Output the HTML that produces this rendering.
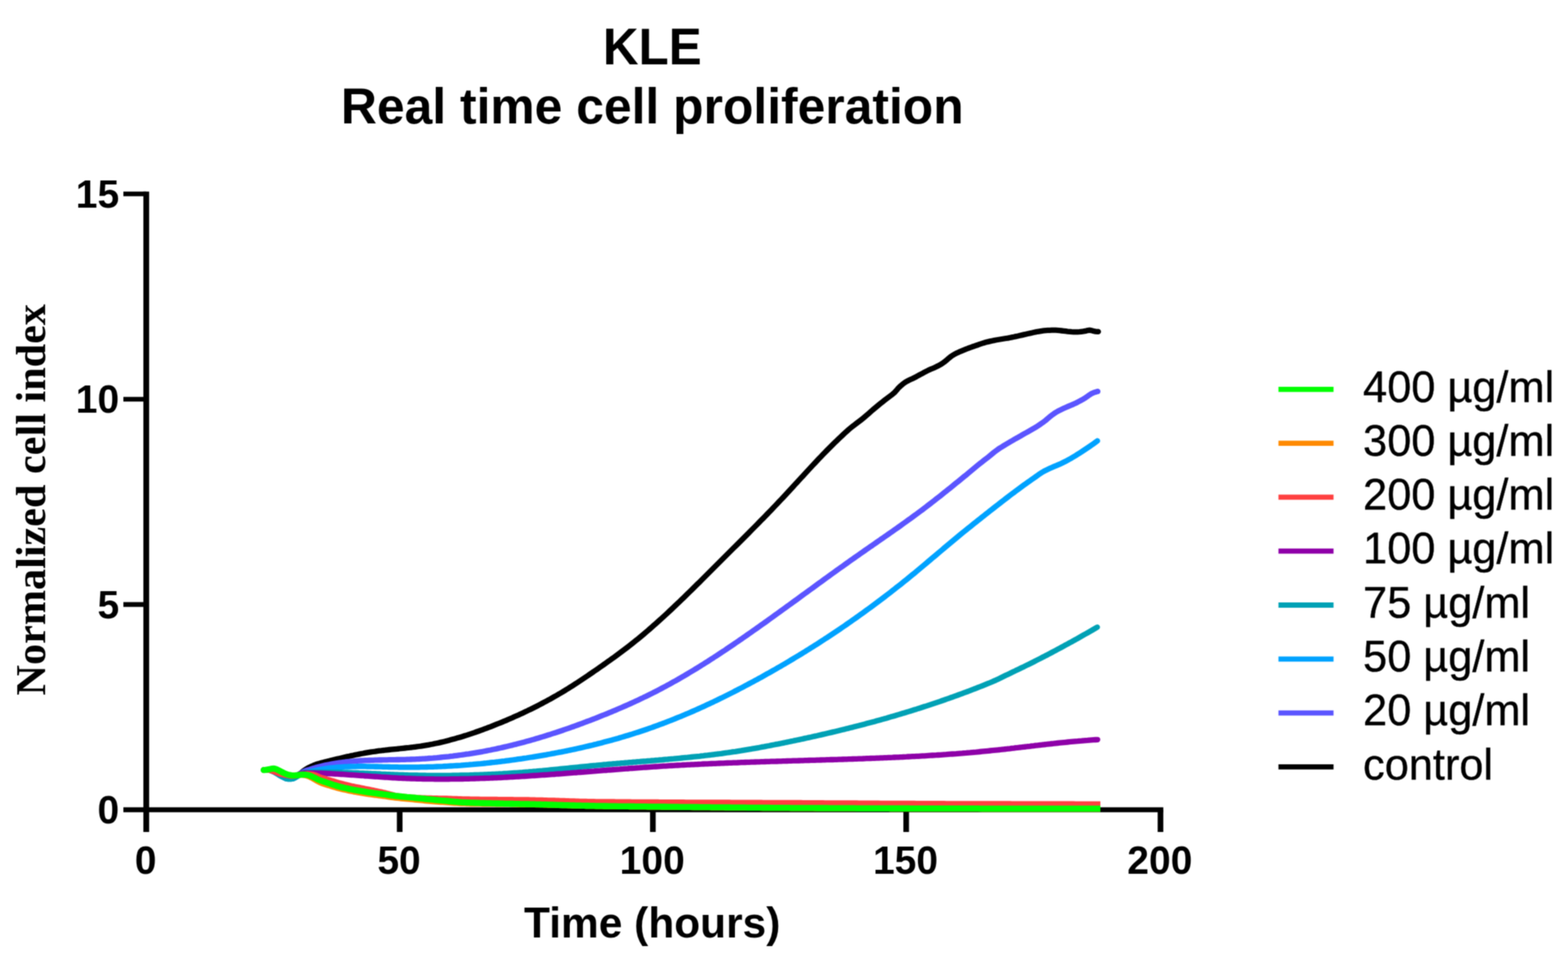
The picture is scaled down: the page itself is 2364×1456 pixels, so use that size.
<!DOCTYPE html>
<html lang="en"><head><meta charset="utf-8"><title>KLE Real time cell proliferation</title>
<style>html,body{margin:0;padding:0;background:#fff;}body{width:2364px;height:1456px;}svg{display:block;}text{font-family:"Liberation Sans",sans-serif;fill:#000;}.b{font-weight:700;}.ser{font-family:"Liberation Serif",serif;font-weight:700;}.c{fill:none;stroke-linejoin:round;stroke-linecap:round;}</style></head><body>
<svg width="2364" height="1456" viewBox="0 0 2364 1456">
<defs><filter id="soft" x="0" y="0" width="2364" height="1456" filterUnits="userSpaceOnUse" color-interpolation-filters="sRGB"><feConvolveMatrix order="3" kernelMatrix="1 2 1 2 4 2 1 2 1" divisor="16" edgeMode="duplicate" preserveAlpha="false"/></filter></defs>
<g filter="url(#soft)">
<rect width="2364" height="1456" fill="#fff"/>
<text class="b" font-size="75.1" text-anchor="middle" transform="translate(983.40,97.20) scale(0.99,1.03)">KLE</text>
<text class="b" font-size="75.1" text-anchor="middle" transform="translate(983.40,186.00) scale(1.0,1.0)">Real time cell proliferation</text>
<g stroke="#000" fill="none" stroke-linecap="butt">
<path d="M220.5,288.75V1254.0" stroke-width="8.7"/>
<path d="M186.0,1220.5H1753.85" stroke-width="7.5"/>
<path d="M186.0,911.10H220.5" stroke-width="7.1"/>
<path d="M186.0,601.70H220.5" stroke-width="7.1"/>
<path d="M186.0,292.30H220.5" stroke-width="7.1"/>
<path d="M602.60,1220.5V1254.0" stroke-width="8.5"/>
<path d="M984.30,1220.5V1254.0" stroke-width="8.5"/>
<path d="M1366.20,1220.5V1254.0" stroke-width="8.5"/>
<path d="M1749.60,1220.5V1254.0" stroke-width="8.5"/>
</g>
<g class="b" font-size="58.8" text-anchor="end">
<text transform="translate(179.60,1241.20) scale(1.0,1.0)">0</text>
<text transform="translate(179.60,931.80) scale(1.0,1.0)">5</text>
<text transform="translate(179.60,622.40) scale(1.0,1.0)">10</text>
<text transform="translate(179.60,313.00) scale(1.0,1.0)">15</text>
</g>
<g class="b" font-size="58.8" text-anchor="middle">
<text transform="translate(219.50,1317.30) scale(1.0,1.0)">0</text>
<text transform="translate(601.60,1317.30) scale(1.0,1.0)">50</text>
<text transform="translate(983.30,1317.30) scale(1.0,1.0)">100</text>
<text transform="translate(1365.20,1317.30) scale(1.0,1.0)">150</text>
<text transform="translate(1748.60,1317.30) scale(1.0,1.0)">200</text>
</g>
<text class="b" font-size="64" text-anchor="middle" transform="translate(983.30,1413.00) scale(1.0,1.0)">Time (hours)</text>
<text class="ser" transform="translate(68.2,753.3) rotate(-90)" font-size="63.6" text-anchor="middle">Normalized cell index</text>
<defs><clipPath id="cl"><rect x="380" y="1100" width="1279" height="140"/></clipPath></defs>
<g class="c">
<path d="M397.6,1160.6 400.6,1160.5 403.6,1160.5 406.6,1160.8 409.6,1161.7 412.6,1162.7 415.6,1164.0 418.6,1165.2 421.6,1166.4 424.6,1167.2 427.6,1167.8 430.6,1168.3 433.6,1168.9 436.6,1169.5 439.6,1169.8 442.6,1169.7 445.6,1169.3 448.6,1168.5 451.6,1166.7 454.6,1164.5 457.6,1161.9 460.6,1159.8 463.6,1158.0 466.6,1156.4 469.6,1155.0 472.6,1153.7 475.6,1152.5 478.6,1151.5 481.6,1150.6 484.6,1149.7 487.6,1149.0 490.6,1148.2 493.6,1147.5 496.6,1146.8 499.6,1146.0 502.6,1145.3 505.6,1144.6 508.6,1143.9 511.6,1143.2 514.6,1142.5 517.6,1141.8 520.6,1141.1 523.6,1140.4 526.6,1139.8 529.6,1139.1 532.6,1138.5 535.6,1137.8 538.6,1137.2 541.6,1136.6 544.6,1136.0 547.6,1135.5 550.6,1134.9 553.6,1134.4 556.6,1133.9 559.6,1133.4 562.6,1133.0 565.6,1132.6 568.6,1132.1 571.6,1131.7 574.6,1131.4 577.6,1131.0 580.6,1130.7 583.6,1130.3 586.6,1130.0 589.6,1129.7 592.6,1129.4 595.6,1129.1 598.6,1128.8 601.6,1128.5 604.6,1128.1 607.6,1127.8 610.6,1127.5 613.6,1127.2 616.6,1126.9 619.6,1126.5 622.6,1126.2 625.6,1125.8 628.6,1125.4 631.6,1125.0 634.6,1124.6 637.6,1124.1 640.6,1123.6 643.6,1123.1 646.6,1122.6 649.6,1122.0 652.6,1121.5 655.6,1120.8 658.6,1120.2 661.6,1119.6 664.6,1118.9 667.6,1118.2 670.6,1117.5 673.6,1116.7 676.6,1115.9 679.6,1115.1 682.6,1114.3 685.6,1113.5 688.6,1112.6 691.6,1111.8 694.6,1110.9 697.6,1110.0 700.6,1109.0 703.6,1108.1 706.6,1107.1 709.6,1106.1 712.6,1105.1 715.6,1104.1 718.6,1103.0 721.6,1102.0 724.6,1100.9 727.6,1099.8 730.6,1098.7 733.6,1097.6 736.6,1096.4 739.6,1095.3 742.6,1094.1 745.6,1092.9 748.6,1091.7 751.6,1090.5 754.6,1089.3 757.6,1088.1 760.6,1086.8 763.6,1085.6 766.6,1084.3 769.6,1083.0 772.6,1081.7 775.6,1080.3 778.6,1079.0 781.6,1077.7 784.6,1076.3 787.6,1074.9 790.6,1073.5 793.6,1072.1 796.6,1070.6 799.6,1069.2 802.6,1067.7 805.6,1066.2 808.6,1064.7 811.6,1063.2 814.6,1061.6 817.6,1060.0 820.6,1058.4 823.6,1056.8 826.6,1055.2 829.6,1053.6 832.6,1051.9 835.6,1050.2 838.6,1048.5 841.6,1046.7 844.6,1045.0 847.6,1043.2 850.6,1041.4 853.6,1039.5 856.6,1037.7 859.6,1035.8 862.6,1033.9 865.6,1032.0 868.6,1030.1 871.6,1028.1 874.6,1026.1 877.6,1024.1 880.6,1022.1 883.6,1020.1 886.6,1018.1 889.6,1016.0 892.6,1014.0 895.6,1011.9 898.6,1009.9 901.6,1007.8 904.6,1005.7 907.6,1003.6 910.6,1001.5 913.6,999.4 916.6,997.2 919.6,995.1 922.6,992.9 925.6,990.8 928.6,988.6 931.6,986.4 934.6,984.2 937.6,981.9 940.6,979.7 943.6,977.4 946.6,975.1 949.6,972.7 952.6,970.4 955.6,968.0 958.6,965.6 961.6,963.2 964.6,960.7 967.6,958.2 970.6,955.7 973.6,953.1 976.6,950.6 979.6,948.0 982.6,945.4 985.6,942.7 988.6,940.1 991.6,937.4 994.6,934.7 997.6,932.0 1000.6,929.2 1003.6,926.5 1006.6,923.7 1009.6,920.9 1012.6,918.1 1015.6,915.2 1018.6,912.4 1021.6,909.5 1024.6,906.7 1027.6,903.8 1030.6,900.9 1033.6,898.0 1036.6,895.1 1039.6,892.1 1042.6,889.2 1045.6,886.2 1048.6,883.3 1051.6,880.3 1054.6,877.4 1057.6,874.4 1060.6,871.4 1063.6,868.4 1066.6,865.4 1069.6,862.4 1072.6,859.4 1075.6,856.4 1078.6,853.4 1081.6,850.4 1084.6,847.4 1087.6,844.4 1090.6,841.4 1093.6,838.4 1096.6,835.4 1099.6,832.4 1102.6,829.4 1105.6,826.4 1108.6,823.5 1111.6,820.5 1114.6,817.5 1117.6,814.5 1120.6,811.5 1123.6,808.5 1126.6,805.5 1129.6,802.5 1132.6,799.4 1135.6,796.4 1138.6,793.4 1141.6,790.3 1144.6,787.3 1147.6,784.2 1150.6,781.2 1153.6,778.1 1156.6,775.0 1159.6,771.9 1162.6,768.8 1165.6,765.7 1168.6,762.5 1171.6,759.4 1174.6,756.2 1177.6,753.0 1180.6,749.8 1183.6,746.6 1186.6,743.4 1189.6,740.1 1192.6,736.9 1195.6,733.6 1198.6,730.3 1201.6,727.1 1204.6,723.8 1207.6,720.5 1210.6,717.3 1213.6,714.0 1216.6,710.7 1219.6,707.5 1222.6,704.2 1225.6,701.0 1228.6,697.8 1231.6,694.6 1234.6,691.4 1237.6,688.3 1240.6,685.2 1243.6,682.1 1246.6,679.0 1249.6,676.0 1252.6,673.0 1255.6,670.0 1258.6,667.1 1261.6,664.2 1264.6,661.3 1267.6,658.4 1270.6,655.6 1273.6,652.8 1276.6,650.1 1279.6,647.4 1282.6,644.9 1285.6,642.5 1288.6,640.2 1291.6,637.9 1294.6,635.7 1297.6,633.4 1300.6,631.0 1303.6,628.5 1306.6,625.9 1309.6,623.3 1312.6,620.7 1315.6,618.0 1318.6,615.5 1321.6,613.0 1324.6,610.5 1327.6,608.1 1330.6,605.7 1333.6,603.3 1336.6,601.0 1339.6,598.7 1342.6,596.5 1345.6,594.2 1348.6,591.6 1351.6,588.3 1354.6,584.7 1357.6,581.9 1360.6,579.3 1363.6,577.0 1366.6,575.1 1369.6,573.5 1372.6,572.1 1375.6,570.7 1378.6,569.2 1381.6,567.7 1384.6,566.0 1387.6,564.4 1390.6,562.8 1393.6,561.2 1396.6,559.6 1399.6,558.1 1402.6,556.7 1405.6,555.5 1408.6,554.2 1411.6,552.8 1414.6,551.3 1417.6,549.7 1420.6,547.8 1423.6,545.7 1426.6,543.3 1429.6,540.7 1432.6,538.2 1435.6,536.0 1438.6,534.2 1441.6,532.6 1444.6,531.2 1447.6,529.8 1450.6,528.6 1453.6,527.4 1456.6,526.2 1459.6,525.0 1462.6,523.9 1465.6,522.8 1468.6,521.8 1471.6,520.7 1474.6,519.7 1477.6,518.6 1480.6,517.6 1483.6,516.7 1486.6,515.8 1489.6,515.1 1492.6,514.4 1495.6,513.7 1498.6,513.1 1501.6,512.5 1504.6,512.0 1507.6,511.5 1510.6,511.0 1513.6,510.5 1516.6,510.0 1519.6,509.6 1522.6,509.0 1525.6,508.4 1528.6,507.8 1531.6,507.1 1534.6,506.5 1537.6,505.8 1540.6,505.1 1543.6,504.4 1546.6,503.7 1549.6,503.0 1552.6,502.4 1555.6,501.7 1558.6,501.0 1561.6,500.4 1564.6,499.8 1567.6,499.3 1570.6,498.8 1573.6,498.4 1576.6,498.1 1579.6,497.9 1582.6,497.8 1585.6,497.7 1588.6,497.6 1591.6,497.7 1594.6,497.9 1597.6,498.2 1600.6,498.5 1603.6,498.8 1606.6,499.2 1609.6,499.6 1612.6,499.8 1615.6,500.1 1618.6,500.3 1621.6,500.4 1624.6,500.4 1627.6,500.2 1630.6,499.8 1633.6,499.4 1636.6,498.9 1639.6,498.1 1642.6,497.7 1645.6,498.1 1648.6,499.0 1651.6,499.6 1654.6,499.8 1655.8,499.9" stroke="#000000" stroke-width="8.3"/>
<path d="M397.6,1160.6 400.6,1160.5 403.6,1160.5 406.6,1160.8 409.6,1161.7 412.6,1162.7 415.6,1164.0 418.6,1165.2 421.6,1166.4 424.6,1167.2 427.6,1167.8 430.6,1168.3 433.6,1168.9 436.6,1169.5 439.6,1169.8 442.6,1169.7 445.6,1169.3 448.6,1168.4 451.6,1166.7 454.6,1164.9 457.6,1163.1 460.6,1161.8 463.6,1160.8 466.6,1159.9 469.6,1158.9 472.6,1158.0 475.6,1157.1 478.6,1156.3 481.6,1155.5 484.6,1154.8 487.6,1154.1 490.6,1153.4 493.6,1152.8 496.6,1152.2 499.6,1151.6 502.6,1151.1 505.6,1150.6 508.6,1150.1 511.6,1149.7 514.6,1149.3 517.6,1148.9 520.6,1148.5 523.6,1148.2 526.6,1147.9 529.6,1147.6 532.6,1147.4 535.6,1147.1 538.6,1146.9 541.6,1146.7 544.6,1146.5 547.6,1146.4 550.6,1146.2 553.6,1146.1 556.6,1146.0 559.6,1145.9 562.6,1145.8 565.6,1145.7 568.6,1145.6 571.6,1145.5 574.6,1145.5 577.6,1145.4 580.6,1145.4 583.6,1145.3 586.6,1145.2 589.6,1145.2 592.6,1145.2 595.6,1145.1 598.6,1145.0 601.6,1145.0 604.6,1144.9 607.6,1144.9 610.6,1144.8 613.6,1144.7 616.6,1144.6 619.6,1144.5 622.6,1144.4 625.6,1144.3 628.6,1144.1 631.6,1144.0 634.6,1143.8 637.6,1143.6 640.6,1143.5 643.6,1143.3 646.6,1143.0 649.6,1142.8 652.6,1142.6 655.6,1142.3 658.6,1142.1 661.6,1141.8 664.6,1141.5 667.6,1141.2 670.6,1140.9 673.6,1140.6 676.6,1140.3 679.6,1139.9 682.6,1139.6 685.6,1139.2 688.6,1138.8 691.6,1138.4 694.6,1138.0 697.6,1137.6 700.6,1137.2 703.6,1136.7 706.6,1136.3 709.6,1135.8 712.6,1135.3 715.6,1134.8 718.6,1134.3 721.6,1133.8 724.6,1133.3 727.6,1132.8 730.6,1132.2 733.6,1131.6 736.6,1131.0 739.6,1130.5 742.6,1129.8 745.6,1129.2 748.6,1128.6 751.6,1127.9 754.6,1127.3 757.6,1126.6 760.6,1125.9 763.6,1125.2 766.6,1124.5 769.6,1123.8 772.6,1123.1 775.6,1122.3 778.6,1121.6 781.6,1120.8 784.6,1120.0 787.6,1119.2 790.6,1118.4 793.6,1117.6 796.6,1116.8 799.6,1115.9 802.6,1115.1 805.6,1114.2 808.6,1113.3 811.6,1112.4 814.6,1111.5 817.6,1110.6 820.6,1109.7 823.6,1108.8 826.6,1107.8 829.6,1106.9 832.6,1105.9 835.6,1104.9 838.6,1104.0 841.6,1103.0 844.6,1102.0 847.6,1101.0 850.6,1099.9 853.6,1098.9 856.6,1097.9 859.6,1096.8 862.6,1095.7 865.6,1094.7 868.6,1093.6 871.6,1092.5 874.6,1091.4 877.6,1090.3 880.6,1089.2 883.6,1088.0 886.6,1086.9 889.6,1085.8 892.6,1084.6 895.6,1083.5 898.6,1082.3 901.6,1081.1 904.6,1079.9 907.6,1078.7 910.6,1077.5 913.6,1076.3 916.6,1075.1 919.6,1073.8 922.6,1072.6 925.6,1071.3 928.6,1070.1 931.6,1068.8 934.6,1067.5 937.6,1066.2 940.6,1064.9 943.6,1063.6 946.6,1062.3 949.6,1060.9 952.6,1059.6 955.6,1058.2 958.6,1056.8 961.6,1055.4 964.6,1054.0 967.6,1052.6 970.6,1051.1 973.6,1049.7 976.6,1048.2 979.6,1046.7 982.6,1045.3 985.6,1043.7 988.6,1042.2 991.6,1040.7 994.6,1039.1 997.6,1037.5 1000.6,1035.9 1003.6,1034.3 1006.6,1032.7 1009.6,1031.1 1012.6,1029.4 1015.6,1027.7 1018.6,1026.1 1021.6,1024.4 1024.6,1022.6 1027.6,1020.9 1030.6,1019.2 1033.6,1017.4 1036.6,1015.6 1039.6,1013.8 1042.6,1012.0 1045.6,1010.2 1048.6,1008.4 1051.6,1006.6 1054.6,1004.7 1057.6,1002.8 1060.6,1001.0 1063.6,999.1 1066.6,997.2 1069.6,995.2 1072.6,993.3 1075.6,991.4 1078.6,989.4 1081.6,987.5 1084.6,985.5 1087.6,983.5 1090.6,981.6 1093.6,979.6 1096.6,977.5 1099.6,975.5 1102.6,973.5 1105.6,971.5 1108.6,969.4 1111.6,967.4 1114.6,965.3 1117.6,963.3 1120.6,961.2 1123.6,959.1 1126.6,957.0 1129.6,954.9 1132.6,952.8 1135.6,950.7 1138.6,948.6 1141.6,946.5 1144.6,944.4 1147.6,942.2 1150.6,940.1 1153.6,938.0 1156.6,935.8 1159.6,933.7 1162.6,931.5 1165.6,929.4 1168.6,927.2 1171.6,925.0 1174.6,922.9 1177.6,920.7 1180.6,918.5 1183.6,916.4 1186.6,914.2 1189.6,912.0 1192.6,909.8 1195.6,907.6 1198.6,905.5 1201.6,903.3 1204.6,901.1 1207.6,898.9 1210.6,896.7 1213.6,894.5 1216.6,892.3 1219.6,890.2 1222.6,888.0 1225.6,885.8 1228.6,883.6 1231.6,881.4 1234.6,879.2 1237.6,877.1 1240.6,874.9 1243.6,872.7 1246.6,870.5 1249.6,868.3 1252.6,866.2 1255.6,864.0 1258.6,861.9 1261.6,859.7 1264.6,857.5 1267.6,855.4 1270.6,853.3 1273.6,851.1 1276.6,849.0 1279.6,846.9 1282.6,844.7 1285.6,842.6 1288.6,840.5 1291.6,838.4 1294.6,836.3 1297.6,834.2 1300.6,832.1 1303.6,830.0 1306.6,827.9 1309.6,825.8 1312.6,823.7 1315.6,821.7 1318.6,819.6 1321.6,817.5 1324.6,815.4 1327.6,813.3 1330.6,811.3 1333.6,809.2 1336.6,807.1 1339.6,805.0 1342.6,802.9 1345.6,800.8 1348.6,798.7 1351.6,796.6 1354.6,794.5 1357.6,792.3 1360.6,790.2 1363.6,788.0 1366.6,785.9 1369.6,783.7 1372.6,781.6 1375.6,779.4 1378.6,777.2 1381.6,775.0 1384.6,772.7 1387.6,770.5 1390.6,768.3 1393.6,766.0 1396.6,763.7 1399.6,761.4 1402.6,759.1 1405.6,756.8 1408.6,754.5 1411.6,752.1 1414.6,749.8 1417.6,747.4 1420.6,745.0 1423.6,742.6 1426.6,740.2 1429.6,737.8 1432.6,735.4 1435.6,733.0 1438.6,730.5 1441.6,728.1 1444.6,725.7 1447.6,723.2 1450.6,720.8 1453.6,718.3 1456.6,715.9 1459.6,713.4 1462.6,710.9 1465.6,708.4 1468.6,705.9 1471.6,703.4 1474.6,700.9 1477.6,698.5 1480.6,696.2 1483.6,693.8 1486.6,691.5 1489.6,689.2 1492.6,686.8 1495.6,684.3 1498.6,681.8 1501.6,679.5 1504.6,677.3 1507.6,675.3 1510.6,673.5 1513.6,671.6 1516.6,669.8 1519.6,668.0 1522.6,666.2 1525.6,664.5 1528.6,662.7 1531.6,661.0 1534.6,659.4 1537.6,657.7 1540.6,655.9 1543.6,654.2 1546.6,652.5 1549.6,650.8 1552.6,649.1 1555.6,647.4 1558.6,645.7 1561.6,643.9 1564.6,642.0 1567.6,640.0 1570.6,637.9 1573.6,635.8 1576.6,633.5 1579.6,630.9 1582.6,628.3 1585.6,625.9 1588.6,623.8 1591.6,621.8 1594.6,620.0 1597.6,618.4 1600.6,617.0 1603.6,615.6 1606.6,614.2 1609.6,612.9 1612.6,611.6 1615.6,610.4 1618.6,609.1 1621.6,607.7 1624.6,606.2 1627.6,604.6 1630.6,603.0 1633.6,601.3 1636.6,599.4 1639.6,597.3 1642.6,595.2 1645.6,593.3 1648.6,591.9 1651.6,590.9 1654.6,590.1 1655.0,590.0" stroke="#5B55FF" stroke-width="8.3"/>
<path d="M397.6,1160.6 400.6,1160.5 403.6,1160.5 406.6,1160.9 409.6,1161.9 412.6,1163.2 415.6,1165.0 418.6,1166.8 421.6,1168.6 424.6,1170.3 427.6,1171.9 430.6,1173.4 433.6,1174.0 436.6,1174.0 439.6,1174.0 442.6,1173.4 445.6,1171.8 448.6,1169.9 451.6,1167.7 454.6,1166.5 457.6,1165.7 460.6,1164.8 463.6,1164.0 466.6,1163.2 469.6,1162.5 472.6,1161.8 475.6,1161.2 478.6,1160.6 481.6,1160.0 484.6,1159.5 487.6,1159.0 490.6,1158.5 493.6,1158.1 496.6,1157.7 499.6,1157.4 502.6,1157.1 505.6,1156.8 508.6,1156.5 511.6,1156.3 514.6,1156.1 517.6,1155.9 520.6,1155.7 523.6,1155.6 526.6,1155.5 529.6,1155.4 532.6,1155.3 535.6,1155.3 538.6,1155.2 541.6,1155.2 544.6,1155.2 547.6,1155.2 550.6,1155.2 553.6,1155.3 556.6,1155.3 559.6,1155.4 562.6,1155.4 565.6,1155.5 568.6,1155.5 571.6,1155.6 574.6,1155.7 577.6,1155.8 580.6,1155.8 583.6,1155.9 586.6,1156.0 589.6,1156.1 592.6,1156.1 595.6,1156.2 598.6,1156.2 601.6,1156.3 604.6,1156.3 607.6,1156.3 610.6,1156.4 613.6,1156.4 616.6,1156.4 619.6,1156.4 622.6,1156.4 625.6,1156.3 628.6,1156.3 631.6,1156.3 634.6,1156.2 637.6,1156.2 640.6,1156.1 643.6,1156.0 646.6,1155.9 649.6,1155.9 652.6,1155.8 655.6,1155.6 658.6,1155.5 661.6,1155.4 664.6,1155.3 667.6,1155.2 670.6,1155.0 673.6,1154.9 676.6,1154.7 679.6,1154.5 682.6,1154.4 685.6,1154.2 688.6,1154.0 691.6,1153.8 694.6,1153.6 697.6,1153.3 700.6,1153.1 703.6,1152.9 706.6,1152.7 709.6,1152.4 712.6,1152.2 715.6,1151.9 718.6,1151.6 721.6,1151.3 724.6,1151.1 727.6,1150.8 730.6,1150.5 733.6,1150.2 736.6,1149.8 739.6,1149.5 742.6,1149.2 745.6,1148.9 748.6,1148.5 751.6,1148.2 754.6,1147.8 757.6,1147.4 760.6,1147.1 763.6,1146.7 766.6,1146.3 769.6,1145.9 772.6,1145.5 775.6,1145.1 778.6,1144.7 781.6,1144.2 784.6,1143.8 787.6,1143.4 790.6,1142.9 793.6,1142.5 796.6,1142.0 799.6,1141.5 802.6,1141.1 805.6,1140.6 808.6,1140.1 811.6,1139.6 814.6,1139.1 817.6,1138.6 820.6,1138.1 823.6,1137.6 826.6,1137.0 829.6,1136.5 832.6,1135.9 835.6,1135.4 838.6,1134.8 841.6,1134.2 844.6,1133.7 847.6,1133.1 850.6,1132.5 853.6,1131.9 856.6,1131.2 859.6,1130.6 862.6,1130.0 865.6,1129.4 868.6,1128.7 871.6,1128.0 874.6,1127.4 877.6,1126.7 880.6,1126.0 883.6,1125.3 886.6,1124.6 889.6,1123.9 892.6,1123.2 895.6,1122.4 898.6,1121.7 901.6,1120.9 904.6,1120.2 907.6,1119.4 910.6,1118.6 913.6,1117.8 916.6,1117.0 919.6,1116.2 922.6,1115.4 925.6,1114.6 928.6,1113.7 931.6,1112.9 934.6,1112.0 937.6,1111.1 940.6,1110.2 943.6,1109.3 946.6,1108.4 949.6,1107.5 952.6,1106.6 955.6,1105.6 958.6,1104.6 961.6,1103.7 964.6,1102.7 967.6,1101.7 970.6,1100.7 973.6,1099.7 976.6,1098.7 979.6,1097.6 982.6,1096.6 985.6,1095.5 988.6,1094.4 991.6,1093.3 994.6,1092.2 997.6,1091.1 1000.6,1090.0 1003.6,1088.8 1006.6,1087.7 1009.6,1086.5 1012.6,1085.3 1015.6,1084.2 1018.6,1082.9 1021.6,1081.7 1024.6,1080.5 1027.6,1079.3 1030.6,1078.0 1033.6,1076.7 1036.6,1075.5 1039.6,1074.2 1042.6,1072.9 1045.6,1071.6 1048.6,1070.3 1051.6,1068.9 1054.6,1067.6 1057.6,1066.2 1060.6,1064.9 1063.6,1063.5 1066.6,1062.1 1069.6,1060.7 1072.6,1059.3 1075.6,1057.9 1078.6,1056.4 1081.6,1055.0 1084.6,1053.5 1087.6,1052.1 1090.6,1050.6 1093.6,1049.1 1096.6,1047.6 1099.6,1046.1 1102.6,1044.6 1105.6,1043.1 1108.6,1041.5 1111.6,1040.0 1114.6,1038.4 1117.6,1036.9 1120.6,1035.3 1123.6,1033.7 1126.6,1032.1 1129.6,1030.5 1132.6,1028.9 1135.6,1027.3 1138.6,1025.7 1141.6,1024.1 1144.6,1022.4 1147.6,1020.8 1150.6,1019.1 1153.6,1017.4 1156.6,1015.7 1159.6,1014.1 1162.6,1012.4 1165.6,1010.7 1168.6,1009.0 1171.6,1007.2 1174.6,1005.5 1177.6,1003.8 1180.6,1002.0 1183.6,1000.3 1186.6,998.5 1189.6,996.7 1192.6,994.9 1195.6,993.1 1198.6,991.3 1201.6,989.5 1204.6,987.7 1207.6,985.9 1210.6,984.0 1213.6,982.2 1216.6,980.3 1219.6,978.5 1222.6,976.6 1225.6,974.7 1228.6,972.8 1231.6,970.9 1234.6,969.0 1237.6,967.0 1240.6,965.1 1243.6,963.1 1246.6,961.2 1249.6,959.2 1252.6,957.2 1255.6,955.2 1258.6,953.2 1261.6,951.2 1264.6,949.2 1267.6,947.2 1270.6,945.1 1273.6,943.1 1276.6,941.0 1279.6,938.9 1282.6,936.8 1285.6,934.7 1288.6,932.6 1291.6,930.5 1294.6,928.4 1297.6,926.2 1300.6,924.1 1303.6,921.9 1306.6,919.7 1309.6,917.5 1312.6,915.3 1315.6,913.1 1318.6,910.9 1321.6,908.7 1324.6,906.4 1327.6,904.2 1330.6,901.9 1333.6,899.6 1336.6,897.3 1339.6,895.0 1342.6,892.7 1345.6,890.3 1348.6,888.0 1351.6,885.6 1354.6,883.3 1357.6,880.9 1360.6,878.5 1363.6,876.1 1366.6,873.7 1369.6,871.2 1372.6,868.8 1375.6,866.3 1378.6,863.9 1381.6,861.4 1384.6,858.9 1387.6,856.4 1390.6,853.9 1393.6,851.4 1396.6,848.8 1399.6,846.3 1402.6,843.8 1405.6,841.2 1408.6,838.7 1411.6,836.2 1414.6,833.6 1417.6,831.1 1420.6,828.6 1423.6,826.0 1426.6,823.5 1429.6,821.0 1432.6,818.5 1435.6,816.0 1438.6,813.5 1441.6,811.0 1444.6,808.5 1447.6,806.0 1450.6,803.6 1453.6,801.1 1456.6,798.7 1459.6,796.3 1462.6,793.9 1465.6,791.5 1468.6,789.1 1471.6,786.7 1474.6,784.3 1477.6,781.9 1480.6,779.5 1483.6,777.2 1486.6,774.8 1489.6,772.5 1492.6,770.1 1495.6,767.7 1498.6,765.4 1501.6,763.0 1504.6,760.7 1507.6,758.4 1510.6,756.0 1513.6,753.7 1516.6,751.4 1519.6,749.1 1522.6,746.8 1525.6,744.5 1528.6,742.3 1531.6,740.0 1534.6,737.8 1537.6,735.6 1540.6,733.4 1543.6,731.2 1546.6,729.1 1549.6,726.9 1552.6,724.8 1555.6,722.7 1558.6,720.6 1561.6,718.5 1564.6,716.4 1567.6,714.2 1570.6,712.3 1573.6,710.5 1576.6,708.9 1579.6,707.5 1582.6,706.1 1585.6,704.7 1588.6,703.4 1591.6,702.2 1594.6,700.9 1597.6,699.7 1600.6,698.3 1603.6,696.8 1606.6,695.3 1609.6,693.7 1612.6,692.0 1615.6,690.3 1618.6,688.5 1621.6,686.7 1624.6,684.8 1627.6,682.9 1630.6,681.0 1633.6,679.0 1636.6,677.0 1639.6,675.0 1642.6,673.0 1645.6,670.9 1648.6,668.8 1651.6,666.6 1654.5,664.5" stroke="#00A2FF" stroke-width="8.3"/>
<path d="M397.6,1160.6 400.6,1160.5 403.6,1160.5 406.6,1160.9 409.6,1161.9 412.6,1163.2 415.6,1165.0 418.6,1166.8 421.6,1168.6 424.6,1170.3 427.6,1171.9 430.6,1173.4 433.6,1174.0 436.6,1174.0 439.6,1174.0 442.6,1173.4 445.6,1171.8 448.6,1170.0 451.6,1167.7 454.6,1165.8 457.6,1164.5 460.6,1164.3 463.6,1164.2 466.6,1164.1 469.6,1164.0 472.6,1163.9 475.6,1163.9 478.6,1163.8 481.6,1163.8 484.6,1163.8 487.6,1163.8 490.6,1163.8 493.6,1163.8 496.6,1163.9 499.6,1163.9 502.6,1163.9 505.6,1164.0 508.6,1164.0 511.6,1164.1 514.6,1164.2 517.6,1164.3 520.6,1164.4 523.6,1164.5 526.6,1164.6 529.6,1164.7 532.6,1164.8 535.6,1164.9 538.6,1165.0 541.6,1165.2 544.6,1165.3 547.6,1165.4 550.6,1165.6 553.6,1165.7 556.6,1165.8 559.6,1166.0 562.6,1166.1 565.6,1166.2 568.6,1166.4 571.6,1166.5 574.6,1166.7 577.6,1166.8 580.6,1166.9 583.6,1167.1 586.6,1167.2 589.6,1167.3 592.6,1167.4 595.6,1167.6 598.6,1167.7 601.6,1167.8 604.6,1167.9 607.6,1168.0 610.6,1168.1 613.6,1168.2 616.6,1168.3 619.6,1168.3 622.6,1168.4 625.6,1168.5 628.6,1168.5 631.6,1168.6 634.6,1168.6 637.6,1168.7 640.6,1168.7 643.6,1168.8 646.6,1168.8 649.6,1168.8 652.6,1168.8 655.6,1168.8 658.6,1168.9 661.6,1168.9 664.6,1168.9 667.6,1168.9 670.6,1168.8 673.6,1168.8 676.6,1168.8 679.6,1168.8 682.6,1168.7 685.6,1168.7 688.6,1168.7 691.6,1168.6 694.6,1168.5 697.6,1168.5 700.6,1168.4 703.6,1168.4 706.6,1168.3 709.6,1168.2 712.6,1168.1 715.6,1168.0 718.6,1167.9 721.6,1167.8 724.6,1167.7 727.6,1167.6 730.6,1167.5 733.6,1167.4 736.6,1167.2 739.6,1167.1 742.6,1166.9 745.6,1166.8 748.6,1166.6 751.6,1166.5 754.6,1166.3 757.6,1166.2 760.6,1166.0 763.6,1165.8 766.6,1165.6 769.6,1165.4 772.6,1165.2 775.6,1165.0 778.6,1164.8 781.6,1164.6 784.6,1164.4 787.6,1164.2 790.6,1163.9 793.6,1163.7 796.6,1163.5 799.6,1163.2 802.6,1163.0 805.6,1162.7 808.6,1162.5 811.6,1162.2 814.6,1161.9 817.6,1161.7 820.6,1161.4 823.6,1161.1 826.6,1160.8 829.6,1160.5 832.6,1160.2 835.6,1159.9 838.6,1159.6 841.6,1159.3 844.6,1159.0 847.6,1158.7 850.6,1158.4 853.6,1158.1 856.6,1157.8 859.6,1157.5 862.6,1157.2 865.6,1156.9 868.6,1156.6 871.6,1156.3 874.6,1156.0 877.6,1155.7 880.6,1155.4 883.6,1155.1 886.6,1154.8 889.6,1154.5 892.6,1154.2 895.6,1153.9 898.6,1153.7 901.6,1153.4 904.6,1153.1 907.6,1152.8 910.6,1152.5 913.6,1152.3 916.6,1152.0 919.6,1151.7 922.6,1151.5 925.6,1151.2 928.6,1151.0 931.6,1150.7 934.6,1150.5 937.6,1150.2 940.6,1150.0 943.6,1149.7 946.6,1149.5 949.6,1149.2 952.6,1149.0 955.6,1148.7 958.6,1148.5 961.6,1148.2 964.6,1148.0 967.6,1147.7 970.6,1147.5 973.6,1147.3 976.6,1147.0 979.6,1146.8 982.6,1146.5 985.6,1146.3 988.6,1146.0 991.6,1145.8 994.6,1145.5 997.6,1145.3 1000.6,1145.0 1003.6,1144.7 1006.6,1144.5 1009.6,1144.2 1012.6,1143.9 1015.6,1143.7 1018.6,1143.4 1021.6,1143.1 1024.6,1142.8 1027.6,1142.5 1030.6,1142.2 1033.6,1141.9 1036.6,1141.7 1039.6,1141.3 1042.6,1141.0 1045.6,1140.7 1048.6,1140.4 1051.6,1140.1 1054.6,1139.8 1057.6,1139.4 1060.6,1139.1 1063.6,1138.7 1066.6,1138.4 1069.6,1138.0 1072.6,1137.7 1075.6,1137.3 1078.6,1136.9 1081.6,1136.5 1084.6,1136.2 1087.6,1135.8 1090.6,1135.3 1093.6,1134.9 1096.6,1134.5 1099.6,1134.1 1102.6,1133.7 1105.6,1133.2 1108.6,1132.8 1111.6,1132.3 1114.6,1131.8 1117.6,1131.4 1120.6,1130.9 1123.6,1130.4 1126.6,1129.9 1129.6,1129.4 1132.6,1128.9 1135.6,1128.3 1138.6,1127.8 1141.6,1127.3 1144.6,1126.8 1147.6,1126.2 1150.6,1125.7 1153.6,1125.1 1156.6,1124.5 1159.6,1124.0 1162.6,1123.4 1165.6,1122.8 1168.6,1122.2 1171.6,1121.7 1174.6,1121.1 1177.6,1120.5 1180.6,1119.9 1183.6,1119.2 1186.6,1118.6 1189.6,1118.0 1192.6,1117.4 1195.6,1116.8 1198.6,1116.1 1201.6,1115.5 1204.6,1114.9 1207.6,1114.2 1210.6,1113.6 1213.6,1112.9 1216.6,1112.3 1219.6,1111.6 1222.6,1111.0 1225.6,1110.3 1228.6,1109.6 1231.6,1109.0 1234.6,1108.3 1237.6,1107.6 1240.6,1106.9 1243.6,1106.2 1246.6,1105.5 1249.6,1104.8 1252.6,1104.1 1255.6,1103.4 1258.6,1102.7 1261.6,1102.0 1264.6,1101.3 1267.6,1100.5 1270.6,1099.8 1273.6,1099.1 1276.6,1098.3 1279.6,1097.6 1282.6,1096.8 1285.6,1096.1 1288.6,1095.3 1291.6,1094.5 1294.6,1093.8 1297.6,1093.0 1300.6,1092.2 1303.6,1091.4 1306.6,1090.6 1309.6,1089.8 1312.6,1089.0 1315.6,1088.2 1318.6,1087.4 1321.6,1086.5 1324.6,1085.7 1327.6,1084.9 1330.6,1084.1 1333.6,1083.2 1336.6,1082.4 1339.6,1081.5 1342.6,1080.6 1345.6,1079.8 1348.6,1078.9 1351.6,1078.0 1354.6,1077.1 1357.6,1076.2 1360.6,1075.3 1363.6,1074.4 1366.6,1073.5 1369.6,1072.6 1372.6,1071.7 1375.6,1070.8 1378.6,1069.8 1381.6,1068.9 1384.6,1067.9 1387.6,1067.0 1390.6,1066.0 1393.6,1065.0 1396.6,1064.1 1399.6,1063.1 1402.6,1062.1 1405.6,1061.1 1408.6,1060.1 1411.6,1059.1 1414.6,1058.1 1417.6,1057.1 1420.6,1056.0 1423.6,1055.0 1426.6,1053.9 1429.6,1052.9 1432.6,1051.8 1435.6,1050.8 1438.6,1049.7 1441.6,1048.6 1444.6,1047.5 1447.6,1046.4 1450.6,1045.3 1453.6,1044.2 1456.6,1043.1 1459.6,1042.0 1462.6,1040.8 1465.6,1039.7 1468.6,1038.5 1471.6,1037.4 1474.6,1036.2 1477.6,1035.0 1480.6,1033.8 1483.6,1032.6 1486.6,1031.4 1489.6,1030.2 1492.6,1029.0 1495.6,1027.7 1498.6,1026.4 1501.6,1025.1 1504.6,1023.7 1507.6,1022.3 1510.6,1020.8 1513.6,1019.3 1516.6,1017.8 1519.6,1016.4 1522.6,1015.0 1525.6,1013.5 1528.6,1012.1 1531.6,1010.6 1534.6,1009.2 1537.6,1007.8 1540.6,1006.3 1543.6,1004.9 1546.6,1003.4 1549.6,1001.9 1552.6,1000.5 1555.6,999.0 1558.6,997.5 1561.6,995.9 1564.6,994.4 1567.6,992.9 1570.6,991.3 1573.6,989.8 1576.6,988.2 1579.6,986.7 1582.6,985.1 1585.6,983.5 1588.6,981.9 1591.6,980.3 1594.6,978.7 1597.6,977.1 1600.6,975.5 1603.6,973.9 1606.6,972.2 1609.6,970.6 1612.6,968.9 1615.6,967.3 1618.6,965.6 1621.6,964.0 1624.6,962.3 1627.6,960.6 1630.6,958.9 1633.6,957.2 1636.6,955.5 1639.6,953.8 1642.6,952.1 1645.6,950.4 1648.6,948.6 1651.6,946.9 1654.3,945.3" stroke="#00A1B5" stroke-width="8.3"/>
<path d="M397.6,1160.6 400.6,1160.5 403.6,1160.5 406.6,1160.8 409.6,1161.7 412.6,1162.7 415.6,1164.0 418.6,1165.2 421.6,1166.4 424.6,1167.2 427.6,1167.8 430.6,1168.3 433.6,1168.9 436.6,1169.5 439.6,1169.8 442.6,1169.7 445.6,1169.3 448.6,1168.4 451.6,1166.7 454.6,1165.6 457.6,1165.1 460.6,1165.0 463.6,1165.1 466.6,1165.1 469.6,1165.1 472.6,1165.2 475.6,1165.2 478.6,1165.3 481.6,1165.4 484.6,1165.5 487.6,1165.6 490.6,1165.7 493.6,1165.9 496.6,1166.0 499.6,1166.1 502.6,1166.3 505.6,1166.5 508.6,1166.6 511.6,1166.8 514.6,1167.0 517.6,1167.2 520.6,1167.4 523.6,1167.6 526.6,1167.8 529.6,1168.0 532.6,1168.2 535.6,1168.4 538.6,1168.6 541.6,1168.8 544.6,1169.0 547.6,1169.2 550.6,1169.5 553.6,1169.7 556.6,1169.9 559.6,1170.1 562.6,1170.3 565.6,1170.5 568.6,1170.7 571.6,1170.9 574.6,1171.2 577.6,1171.4 580.6,1171.5 583.6,1171.7 586.6,1171.9 589.6,1172.1 592.6,1172.3 595.6,1172.4 598.6,1172.6 601.6,1172.8 604.6,1172.9 607.6,1173.0 610.6,1173.2 613.6,1173.3 616.6,1173.4 619.6,1173.5 622.6,1173.6 625.6,1173.7 628.6,1173.8 631.6,1173.9 634.6,1173.9 637.6,1174.0 640.6,1174.1 643.6,1174.1 646.6,1174.2 649.6,1174.2 652.6,1174.2 655.6,1174.3 658.6,1174.3 661.6,1174.3 664.6,1174.3 667.6,1174.3 670.6,1174.3 673.6,1174.3 676.6,1174.3 679.6,1174.2 682.6,1174.2 685.6,1174.2 688.6,1174.1 691.6,1174.1 694.6,1174.0 697.6,1174.0 700.6,1173.9 703.6,1173.8 706.6,1173.8 709.6,1173.7 712.6,1173.6 715.6,1173.5 718.6,1173.4 721.6,1173.3 724.6,1173.2 727.6,1173.1 730.6,1173.0 733.6,1172.9 736.6,1172.8 739.6,1172.7 742.6,1172.5 745.6,1172.4 748.6,1172.3 751.6,1172.1 754.6,1172.0 757.6,1171.8 760.6,1171.7 763.6,1171.5 766.6,1171.4 769.6,1171.2 772.6,1171.0 775.6,1170.9 778.6,1170.7 781.6,1170.5 784.6,1170.4 787.6,1170.2 790.6,1170.0 793.6,1169.8 796.6,1169.6 799.6,1169.4 802.6,1169.2 805.6,1169.0 808.6,1168.8 811.6,1168.6 814.6,1168.4 817.6,1168.2 820.6,1168.0 823.6,1167.8 826.6,1167.6 829.6,1167.4 832.6,1167.2 835.6,1167.0 838.6,1166.7 841.6,1166.5 844.6,1166.3 847.6,1166.1 850.6,1165.8 853.6,1165.6 856.6,1165.4 859.6,1165.2 862.6,1164.9 865.6,1164.7 868.6,1164.5 871.6,1164.2 874.6,1164.0 877.6,1163.8 880.6,1163.5 883.6,1163.3 886.6,1163.1 889.6,1162.9 892.6,1162.6 895.6,1162.4 898.6,1162.1 901.6,1161.9 904.6,1161.7 907.6,1161.4 910.6,1161.2 913.6,1161.0 916.6,1160.7 919.6,1160.5 922.6,1160.3 925.6,1160.0 928.6,1159.8 931.6,1159.6 934.6,1159.4 937.6,1159.1 940.6,1158.9 943.6,1158.7 946.6,1158.5 949.6,1158.2 952.6,1158.0 955.6,1157.8 958.6,1157.6 961.6,1157.4 964.6,1157.2 967.6,1156.9 970.6,1156.7 973.6,1156.5 976.6,1156.3 979.6,1156.1 982.6,1155.9 985.6,1155.7 988.6,1155.5 991.6,1155.3 994.6,1155.1 997.6,1154.9 1000.6,1154.7 1003.6,1154.6 1006.6,1154.4 1009.6,1154.2 1012.6,1154.0 1015.6,1153.9 1018.6,1153.7 1021.6,1153.5 1024.6,1153.3 1027.6,1153.2 1030.6,1153.0 1033.6,1152.9 1036.6,1152.7 1039.6,1152.6 1042.6,1152.4 1045.6,1152.3 1048.6,1152.1 1051.6,1152.0 1054.6,1151.8 1057.6,1151.7 1060.6,1151.5 1063.6,1151.4 1066.6,1151.3 1069.6,1151.1 1072.6,1151.0 1075.6,1150.9 1078.6,1150.8 1081.6,1150.6 1084.6,1150.5 1087.6,1150.4 1090.6,1150.3 1093.6,1150.1 1096.6,1150.0 1099.6,1149.9 1102.6,1149.8 1105.6,1149.7 1108.6,1149.6 1111.6,1149.5 1114.6,1149.3 1117.6,1149.2 1120.6,1149.1 1123.6,1149.0 1126.6,1148.9 1129.6,1148.8 1132.6,1148.7 1135.6,1148.6 1138.6,1148.5 1141.6,1148.4 1144.6,1148.3 1147.6,1148.2 1150.6,1148.1 1153.6,1148.0 1156.6,1147.9 1159.6,1147.8 1162.6,1147.7 1165.6,1147.7 1168.6,1147.6 1171.6,1147.5 1174.6,1147.4 1177.6,1147.3 1180.6,1147.2 1183.6,1147.1 1186.6,1147.0 1189.6,1146.9 1192.6,1146.8 1195.6,1146.7 1198.6,1146.7 1201.6,1146.6 1204.6,1146.5 1207.6,1146.4 1210.6,1146.3 1213.6,1146.2 1216.6,1146.1 1219.6,1146.0 1222.6,1145.9 1225.6,1145.9 1228.6,1145.8 1231.6,1145.7 1234.6,1145.6 1237.6,1145.5 1240.6,1145.4 1243.6,1145.3 1246.6,1145.2 1249.6,1145.1 1252.6,1145.0 1255.6,1145.0 1258.6,1144.9 1261.6,1144.8 1264.6,1144.7 1267.6,1144.6 1270.6,1144.5 1273.6,1144.4 1276.6,1144.3 1279.6,1144.2 1282.6,1144.1 1285.6,1144.0 1288.6,1143.9 1291.6,1143.8 1294.6,1143.7 1297.6,1143.6 1300.6,1143.5 1303.6,1143.3 1306.6,1143.2 1309.6,1143.1 1312.6,1143.0 1315.6,1142.9 1318.6,1142.8 1321.6,1142.7 1324.6,1142.6 1327.6,1142.4 1330.6,1142.3 1333.6,1142.2 1336.6,1142.1 1339.6,1141.9 1342.6,1141.8 1345.6,1141.7 1348.6,1141.5 1351.6,1141.4 1354.6,1141.3 1357.6,1141.1 1360.6,1141.0 1363.6,1140.8 1366.6,1140.7 1369.6,1140.5 1372.6,1140.4 1375.6,1140.2 1378.6,1140.1 1381.6,1139.9 1384.6,1139.8 1387.6,1139.6 1390.6,1139.4 1393.6,1139.3 1396.6,1139.1 1399.6,1138.9 1402.6,1138.7 1405.6,1138.5 1408.6,1138.3 1411.6,1138.2 1414.6,1138.0 1417.6,1137.8 1420.6,1137.6 1423.6,1137.4 1426.6,1137.2 1429.6,1136.9 1432.6,1136.7 1435.6,1136.5 1438.6,1136.3 1441.6,1136.1 1444.6,1135.8 1447.6,1135.6 1450.6,1135.4 1453.6,1135.1 1456.6,1134.9 1459.6,1134.6 1462.6,1134.4 1465.6,1134.1 1468.6,1133.8 1471.6,1133.6 1474.6,1133.3 1477.6,1133.0 1480.6,1132.7 1483.6,1132.4 1486.6,1132.1 1489.6,1131.8 1492.6,1131.5 1495.6,1131.2 1498.6,1130.9 1501.6,1130.6 1504.6,1130.3 1507.6,1130.0 1510.6,1129.6 1513.6,1129.3 1516.6,1129.0 1519.6,1128.6 1522.6,1128.3 1525.6,1127.9 1528.6,1127.6 1531.6,1127.2 1534.6,1126.9 1537.6,1126.5 1540.6,1126.2 1543.6,1125.8 1546.6,1125.5 1549.6,1125.1 1552.6,1124.8 1555.6,1124.4 1558.6,1124.1 1561.6,1123.7 1564.6,1123.4 1567.6,1123.0 1570.6,1122.7 1573.6,1122.3 1576.6,1122.0 1579.6,1121.6 1582.6,1121.3 1585.6,1121.0 1588.6,1120.7 1591.6,1120.3 1594.6,1120.0 1597.6,1119.7 1600.6,1119.4 1603.6,1119.1 1606.6,1118.8 1609.6,1118.5 1612.6,1118.2 1615.6,1117.9 1618.6,1117.6 1621.6,1117.3 1624.6,1117.1 1627.6,1116.8 1630.6,1116.6 1633.6,1116.3 1636.6,1116.1 1639.6,1115.9 1642.6,1115.6 1645.6,1115.4 1648.6,1115.2 1651.6,1115.0 1654.6,1114.8 1654.7,1114.8" stroke="#8E00A8" stroke-width="8.3"/>
<path d="M397.6,1160.6 400.6,1160.5 403.6,1160.5 406.6,1160.8 409.6,1161.7 412.6,1162.7 415.6,1164.0 418.6,1165.2 421.6,1166.4 424.6,1167.2 427.6,1167.8 430.6,1168.3 433.6,1168.9 436.6,1169.5 439.6,1169.8 442.6,1169.7 445.6,1169.4 448.6,1169.0 451.6,1168.3 454.6,1167.6 457.6,1167.1 460.6,1166.8 463.6,1166.5 466.6,1166.6 469.6,1166.9 472.6,1167.4 475.6,1168.2 478.6,1169.6 481.6,1170.9 484.6,1171.9 487.6,1172.8 490.6,1173.7 493.6,1174.6 496.6,1175.5 499.6,1176.4 502.6,1177.3 505.6,1178.2 508.6,1179.1 511.6,1180.0 514.6,1180.8 517.6,1181.6 520.6,1182.4 523.6,1183.1 526.6,1183.8 529.6,1184.5 532.6,1185.1 535.6,1185.7 538.6,1186.3 541.6,1186.9 544.6,1187.5 547.6,1188.1 550.6,1188.7 553.6,1189.3 556.6,1189.9 559.6,1190.5 562.6,1191.1 565.6,1191.7 568.6,1192.4 571.6,1193.0 574.6,1193.6 577.6,1194.3 580.6,1194.9 583.6,1195.7 586.6,1196.5 589.6,1197.3 592.6,1198.1 595.6,1198.8 598.6,1199.4 601.6,1199.9 604.6,1200.2 607.6,1200.5 610.6,1200.8 613.6,1201.1 616.6,1201.3 619.6,1201.6 622.6,1201.8 625.6,1202.0 628.6,1202.2 631.6,1202.3 634.6,1202.5 637.6,1202.6 640.6,1202.7 643.6,1202.8 646.6,1202.9 649.6,1203.0 652.6,1203.1 655.6,1203.1 658.6,1203.2 661.6,1203.3 664.6,1203.3 667.6,1203.4 670.6,1203.5 673.6,1203.5 676.6,1203.6 679.6,1203.7 682.6,1203.8 685.6,1203.9 688.6,1204.0 691.6,1204.1 694.6,1204.2 697.6,1204.3 700.6,1204.4 703.6,1204.5 706.6,1204.5 709.6,1204.6 712.6,1204.6 715.6,1204.7 718.6,1204.7 721.6,1204.7 724.6,1204.8 727.6,1204.8 730.6,1204.9 733.6,1204.9 736.6,1204.9 739.6,1204.9 742.6,1205.0 745.6,1205.0 748.6,1205.0 751.6,1205.1 754.6,1205.1 757.6,1205.1 760.6,1205.1 763.6,1205.2 766.6,1205.2 769.6,1205.2 772.6,1205.2 775.6,1205.3 778.6,1205.3 781.6,1205.3 784.6,1205.4 787.6,1205.4 790.6,1205.5 793.6,1205.5 796.6,1205.5 799.6,1205.6 802.6,1205.6 805.6,1205.7 808.6,1205.8 811.6,1205.8 814.6,1205.9 817.6,1206.0 820.6,1206.1 823.6,1206.2 826.6,1206.3 829.6,1206.3 832.6,1206.4 835.6,1206.5 838.6,1206.6 841.6,1206.7 844.6,1206.8 847.6,1206.9 850.6,1207.0 853.6,1207.1 856.6,1207.2 859.6,1207.3 862.6,1207.4 865.6,1207.5 868.6,1207.6 871.6,1207.7 874.6,1207.8 877.6,1207.9 880.6,1208.0 883.6,1208.0 886.6,1208.1 889.6,1208.1 892.6,1208.2 895.6,1208.2 898.6,1208.3 901.6,1208.3 904.6,1208.3 907.6,1208.4 910.6,1208.4 913.6,1208.4 916.6,1208.5 919.6,1208.5 922.6,1208.5 925.6,1208.5 928.6,1208.6 931.6,1208.6 934.6,1208.6 937.6,1208.7 940.6,1208.7 943.6,1208.7 946.6,1208.7 949.6,1208.7 952.6,1208.8 955.6,1208.8 958.6,1208.8 961.6,1208.8 964.6,1208.9 967.6,1208.9 970.6,1208.9 973.6,1208.9 976.6,1208.9 979.6,1209.0 982.6,1209.0 985.6,1209.0 988.6,1209.0 991.6,1209.0 994.6,1209.1 997.6,1209.1 1000.6,1209.1 1003.6,1209.1 1006.6,1209.1 1009.6,1209.1 1012.6,1209.2 1015.6,1209.2 1018.6,1209.2 1021.6,1209.2 1024.6,1209.2 1027.6,1209.2 1030.6,1209.2 1033.6,1209.3 1036.6,1209.3 1039.6,1209.3 1042.6,1209.3 1045.6,1209.3 1048.6,1209.3 1051.6,1209.3 1054.6,1209.4 1057.6,1209.4 1060.6,1209.4 1063.6,1209.4 1066.6,1209.4 1069.6,1209.4 1072.6,1209.4 1075.6,1209.4 1078.6,1209.5 1081.6,1209.5 1084.6,1209.5 1087.6,1209.5 1090.6,1209.5 1093.6,1209.5 1096.6,1209.5 1099.6,1209.5 1102.6,1209.6 1105.6,1209.6 1108.6,1209.6 1111.6,1209.6 1114.6,1209.6 1117.6,1209.6 1120.6,1209.6 1123.6,1209.6 1126.6,1209.7 1129.6,1209.7 1132.6,1209.7 1135.6,1209.7 1138.6,1209.7 1141.6,1209.7 1144.6,1209.7 1147.6,1209.7 1150.6,1209.8 1153.6,1209.8 1156.6,1209.8 1159.6,1209.8 1162.6,1209.8 1165.6,1209.8 1168.6,1209.8 1171.6,1209.9 1174.6,1209.9 1177.6,1209.9 1180.6,1209.9 1183.6,1209.9 1186.6,1209.9 1189.6,1209.9 1192.6,1210.0 1195.6,1210.0 1198.6,1210.0 1201.6,1210.0 1204.6,1210.0 1207.6,1210.0 1210.6,1210.1 1213.6,1210.1 1216.6,1210.1 1219.6,1210.1 1222.6,1210.1 1225.6,1210.1 1228.6,1210.2 1231.6,1210.2 1234.6,1210.2 1237.6,1210.2 1240.6,1210.2 1243.6,1210.3 1246.6,1210.3 1249.6,1210.3 1252.6,1210.3 1255.6,1210.3 1258.6,1210.3 1261.6,1210.4 1264.6,1210.4 1267.6,1210.4 1270.6,1210.4 1273.6,1210.4 1276.6,1210.5 1279.6,1210.5 1282.6,1210.5 1285.6,1210.5 1288.6,1210.5 1291.6,1210.5 1294.6,1210.6 1297.6,1210.6 1300.6,1210.6 1303.6,1210.6 1306.6,1210.6 1309.6,1210.7 1312.6,1210.7 1315.6,1210.7 1318.6,1210.7 1321.6,1210.7 1324.6,1210.7 1327.6,1210.8 1330.6,1210.8 1333.6,1210.8 1336.6,1210.8 1339.6,1210.8 1342.6,1210.9 1345.6,1210.9 1348.6,1210.9 1351.6,1210.9 1354.6,1210.9 1357.6,1210.9 1360.6,1211.0 1363.6,1211.0 1366.6,1211.0 1369.6,1211.0 1372.6,1211.0 1375.6,1211.0 1378.6,1211.0 1381.6,1211.1 1384.6,1211.1 1387.6,1211.1 1390.6,1211.1 1393.6,1211.1 1396.6,1211.1 1399.6,1211.1 1402.6,1211.2 1405.6,1211.2 1408.6,1211.2 1411.6,1211.2 1414.6,1211.2 1417.6,1211.2 1420.6,1211.2 1423.6,1211.2 1426.6,1211.3 1429.6,1211.3 1432.6,1211.3 1435.6,1211.3 1438.6,1211.3 1441.6,1211.3 1444.6,1211.3 1447.6,1211.3 1450.6,1211.3 1453.6,1211.3 1456.6,1211.4 1459.6,1211.4 1462.6,1211.4 1465.6,1211.4 1468.6,1211.4 1471.6,1211.4 1474.6,1211.4 1477.6,1211.4 1480.6,1211.4 1483.6,1211.4 1486.6,1211.4 1489.6,1211.5 1492.6,1211.5 1495.6,1211.5 1498.6,1211.5 1501.6,1211.5 1504.6,1211.5 1507.6,1211.5 1510.6,1211.5 1513.6,1211.5 1516.6,1211.5 1519.6,1211.5 1522.6,1211.5 1525.6,1211.6 1528.6,1211.6 1531.6,1211.6 1534.6,1211.6 1537.6,1211.6 1540.6,1211.6 1543.6,1211.6 1546.6,1211.6 1549.6,1211.6 1552.6,1211.6 1555.6,1211.6 1558.6,1211.6 1561.6,1211.6 1564.6,1211.6 1567.6,1211.7 1570.6,1211.7 1573.6,1211.7 1576.6,1211.7 1579.6,1211.7 1582.6,1211.7 1585.6,1211.7 1588.6,1211.7 1591.6,1211.7 1594.6,1211.7 1597.6,1211.7 1600.6,1211.7 1603.6,1211.7 1606.6,1211.7 1609.6,1211.7 1612.6,1211.7 1615.6,1211.7 1618.6,1211.7 1621.6,1211.8 1624.6,1211.8 1627.6,1211.8 1630.6,1211.8 1633.6,1211.8 1636.6,1211.8 1639.6,1211.8 1642.6,1211.8 1645.6,1211.8 1648.6,1211.8 1651.6,1211.8 1654.6,1211.8 1657.6,1211.8 1660.6,1211.8 1663.6,1211.8 1665.0,1211.8" stroke="#FF4040" stroke-width="8.3" clip-path="url(#cl)"/>
<path d="M397.6,1160.6 400.6,1160.3 403.6,1159.9 406.6,1159.4 409.6,1158.7 412.6,1158.3 415.6,1159.0 418.6,1160.3 421.6,1161.8 424.6,1163.5 427.6,1165.0 430.6,1166.4 433.6,1167.4 436.6,1168.2 439.6,1168.6 442.6,1168.8 445.6,1168.7 448.6,1168.3 451.6,1168.1 454.6,1168.1 457.6,1168.4 460.6,1169.0 463.6,1169.8 466.6,1171.0 469.6,1172.5 472.6,1174.2 475.6,1175.9 478.6,1177.6 481.6,1179.2 484.6,1180.5 487.6,1181.5 490.6,1182.5 493.6,1183.4 496.6,1184.3 499.6,1185.2 502.6,1186.2 505.6,1187.0 508.6,1187.9 511.6,1188.7 514.6,1189.4 517.6,1190.1 520.6,1190.8 523.6,1191.4 526.6,1192.1 529.6,1192.7 532.6,1193.3 535.6,1193.8 538.6,1194.4 541.6,1194.9 544.6,1195.4 547.6,1195.9 550.6,1196.4 553.6,1196.9 556.6,1197.3 559.6,1197.7 562.6,1198.2 565.6,1198.5 568.6,1198.9 571.6,1199.3 574.6,1199.7 577.6,1200.1 580.6,1200.5 583.6,1200.9 586.6,1201.4 589.6,1201.8 592.6,1202.2 595.6,1202.6 598.6,1202.9 601.6,1203.2 604.6,1203.5 607.6,1203.8 610.6,1204.1 613.6,1204.4 616.6,1204.6 619.6,1204.9 622.6,1205.2 625.6,1205.5 628.6,1205.8 631.6,1206.1 634.6,1206.4 637.6,1206.7 640.6,1207.0 643.6,1207.3 646.6,1207.6 649.6,1207.9 652.6,1208.1 655.6,1208.4 658.6,1208.6 661.6,1208.8 664.6,1209.0 667.6,1209.2 670.6,1209.4 673.6,1209.7 676.6,1209.9 679.6,1210.1 682.6,1210.3 685.6,1210.5 688.6,1210.7 691.6,1210.9 694.6,1211.0 697.6,1211.1 700.6,1211.2 703.6,1211.3 706.6,1211.4 709.6,1211.5 712.6,1211.5 715.6,1211.6 718.6,1211.6 721.6,1211.7 724.6,1211.7 727.6,1211.8 730.6,1211.8 733.6,1211.8 736.6,1211.8 739.6,1211.9 742.6,1211.9 745.6,1211.9 748.6,1212.0 751.6,1212.0 754.6,1212.0 757.6,1212.0 760.6,1212.1 763.6,1212.1 766.6,1212.2 769.6,1212.2 772.6,1212.3 775.6,1212.3 778.6,1212.4 781.6,1212.5 784.6,1212.5 787.6,1212.6 790.6,1212.6 793.6,1212.7 796.6,1212.7 799.6,1212.8 802.6,1212.9 805.6,1212.9 808.6,1213.0 811.6,1213.1 814.6,1213.2 817.6,1213.2 820.6,1213.3 823.6,1213.4 826.6,1213.5 829.6,1213.6 832.6,1213.7 835.6,1213.7 838.6,1213.8 841.6,1213.9 844.6,1214.0 847.6,1214.1 850.6,1214.2 853.6,1214.2 856.6,1214.3 859.6,1214.4 862.6,1214.5 865.6,1214.6 868.6,1214.7 871.6,1214.7 874.6,1214.8 877.6,1214.9 880.6,1214.9 883.6,1215.0 886.6,1215.1 889.6,1215.1 892.6,1215.2 895.6,1215.2 898.6,1215.3 901.6,1215.3 904.6,1215.4 907.6,1215.4 910.6,1215.5 913.6,1215.5 916.6,1215.6 919.6,1215.6 922.6,1215.6 925.6,1215.7 928.6,1215.7 931.6,1215.8 934.6,1215.8 937.6,1215.8 940.6,1215.9 943.6,1215.9 946.6,1215.9 949.6,1216.0 952.6,1216.0 955.6,1216.0 958.6,1216.1 961.6,1216.1 964.6,1216.1 967.6,1216.2 970.6,1216.2 973.6,1216.2 976.6,1216.3 979.6,1216.3 982.6,1216.3 985.6,1216.3 988.6,1216.4 991.6,1216.4 994.6,1216.4 997.6,1216.5 1000.6,1216.5 1003.6,1216.5 1006.6,1216.6 1009.6,1216.6 1012.6,1216.6 1015.6,1216.7 1018.6,1216.7 1021.6,1216.7 1024.6,1216.8 1027.6,1216.8 1030.6,1216.8 1033.6,1216.8 1036.6,1216.9 1039.6,1216.9 1042.6,1217.0 1045.6,1217.0 1048.6,1217.0 1051.6,1217.0 1054.6,1217.1 1057.6,1217.1 1060.6,1217.1 1063.6,1217.2 1066.6,1217.2 1069.6,1217.2 1072.6,1217.3 1075.6,1217.3 1078.6,1217.3 1081.6,1217.3 1084.6,1217.4 1087.6,1217.4 1090.6,1217.4 1093.6,1217.5 1096.6,1217.5 1099.6,1217.5 1102.6,1217.5 1105.6,1217.6 1108.6,1217.6 1111.6,1217.6 1114.6,1217.7 1117.6,1217.7 1120.6,1217.7 1123.6,1217.7 1126.6,1217.8 1129.6,1217.8 1132.6,1217.8 1135.6,1217.8 1138.6,1217.9 1141.6,1217.9 1144.6,1217.9 1147.6,1218.0 1150.6,1218.0 1153.6,1218.0 1156.6,1218.0 1159.6,1218.0 1162.6,1218.1 1165.6,1218.1 1168.6,1218.1 1171.6,1218.1 1174.6,1218.2 1177.6,1218.2 1180.6,1218.2 1183.6,1218.2 1186.6,1218.2 1189.6,1218.2 1192.6,1218.3 1195.6,1218.3 1198.6,1218.3 1201.6,1218.3 1204.6,1218.3 1207.6,1218.3 1210.6,1218.4 1213.6,1218.4 1216.6,1218.4 1219.6,1218.4 1222.6,1218.4 1225.6,1218.4 1228.6,1218.5 1231.6,1218.5 1234.6,1218.5 1237.6,1218.5 1240.6,1218.5 1243.6,1218.5 1246.6,1218.5 1249.6,1218.6 1252.6,1218.6 1255.6,1218.6 1258.6,1218.6 1261.6,1218.6 1264.6,1218.6 1267.6,1218.6 1270.6,1218.7 1273.6,1218.7 1276.6,1218.7 1279.6,1218.7 1282.6,1218.7 1285.6,1218.7 1288.6,1218.7 1291.6,1218.8 1294.6,1218.8 1297.6,1218.8 1300.6,1218.8 1303.6,1218.8 1306.6,1218.8 1309.6,1218.8 1312.6,1218.8 1315.6,1218.8 1318.6,1218.9 1321.6,1218.9 1324.6,1218.9 1327.6,1218.9 1330.6,1218.9 1333.6,1218.9 1336.6,1218.9 1339.6,1218.9 1342.6,1219.0 1345.6,1219.0 1348.6,1219.0 1351.6,1219.0 1354.6,1219.0 1357.6,1219.0 1360.6,1219.0 1363.6,1219.0 1366.6,1219.0 1369.6,1219.0 1372.6,1219.0 1375.6,1219.1 1378.6,1219.1 1381.6,1219.1 1384.6,1219.1 1387.6,1219.1 1390.6,1219.1 1393.6,1219.1 1396.6,1219.1 1399.6,1219.1 1402.6,1219.1 1405.6,1219.1 1408.6,1219.1 1411.6,1219.2 1414.6,1219.2 1417.6,1219.2 1420.6,1219.2 1423.6,1219.2 1426.6,1219.2 1429.6,1219.2 1432.6,1219.2 1435.6,1219.2 1438.6,1219.2 1441.6,1219.2 1444.6,1219.2 1447.6,1219.2 1450.6,1219.2 1453.6,1219.2 1456.6,1219.2 1459.6,1219.2 1462.6,1219.2 1465.6,1219.2 1468.6,1219.2 1471.6,1219.2 1474.6,1219.2 1477.6,1219.2 1480.6,1219.3 1483.6,1219.3 1486.6,1219.3 1489.6,1219.3 1492.6,1219.3 1495.6,1219.3 1498.6,1219.3 1501.6,1219.3 1504.6,1219.3 1507.6,1219.3 1510.6,1219.3 1513.6,1219.3 1516.6,1219.3 1519.6,1219.3 1522.6,1219.3 1525.6,1219.3 1528.6,1219.3 1531.6,1219.3 1534.6,1219.3 1537.6,1219.3 1540.6,1219.3 1543.6,1219.3 1546.6,1219.3 1549.6,1219.3 1552.6,1219.3 1555.6,1219.3 1558.6,1219.3 1561.6,1219.3 1564.6,1219.3 1567.6,1219.3 1570.6,1219.4 1573.6,1219.4 1576.6,1219.4 1579.6,1219.4 1582.6,1219.4 1585.6,1219.4 1588.6,1219.4 1591.6,1219.4 1594.6,1219.4 1597.6,1219.4 1600.6,1219.4 1603.6,1219.4 1606.6,1219.4 1609.6,1219.4 1612.6,1219.4 1615.6,1219.4 1618.6,1219.4 1621.6,1219.4 1624.6,1219.4 1627.6,1219.4 1630.6,1219.4 1633.6,1219.4 1636.6,1219.4 1639.6,1219.4 1642.6,1219.4 1645.6,1219.4 1648.6,1219.4 1651.6,1219.4 1654.6,1219.4 1657.6,1219.4 1660.6,1219.4 1663.6,1219.4 1665.0,1219.4" stroke="#FF8A00" stroke-width="8.3" clip-path="url(#cl)"/>
<path d="M397.6,1160.6 400.6,1160.3 403.6,1159.9 406.6,1159.4 409.6,1158.7 412.6,1158.3 415.6,1159.0 418.6,1160.3 421.6,1161.8 424.6,1163.5 427.6,1165.0 430.6,1166.4 433.6,1167.4 436.6,1168.2 439.6,1168.6 442.6,1168.8 445.6,1168.7 448.6,1168.3 451.6,1167.9 454.6,1167.5 457.6,1167.4 460.6,1167.6 463.6,1168.0 466.6,1168.9 469.6,1170.1 472.6,1171.4 475.6,1172.9 478.6,1174.4 481.6,1175.7 484.6,1176.8 487.6,1177.8 490.6,1178.9 493.6,1179.9 496.6,1180.9 499.6,1181.9 502.6,1182.9 505.6,1183.8 508.6,1184.7 511.6,1185.6 514.6,1186.4 517.6,1187.1 520.6,1187.8 523.6,1188.4 526.6,1189.1 529.6,1189.7 532.6,1190.3 535.6,1190.8 538.6,1191.4 541.6,1191.9 544.6,1192.4 547.6,1192.9 550.6,1193.4 553.6,1193.9 556.6,1194.3 559.6,1194.7 562.6,1195.1 565.6,1195.5 568.6,1195.9 571.6,1196.3 574.6,1196.7 577.6,1197.1 580.6,1197.5 583.6,1197.9 586.6,1198.4 589.6,1198.8 592.6,1199.2 595.6,1199.6 598.6,1199.9 601.6,1200.2 604.6,1200.5 607.6,1200.8 610.6,1201.1 613.6,1201.4 616.6,1201.6 619.6,1201.9 622.6,1202.2 625.6,1202.5 628.6,1202.8 631.6,1203.1 634.6,1203.4 637.6,1203.7 640.6,1204.0 643.6,1204.3 646.6,1204.6 649.6,1204.9 652.6,1205.2 655.6,1205.5 658.6,1205.8 661.6,1206.1 664.6,1206.4 667.6,1206.6 670.6,1206.9 673.6,1207.2 676.6,1207.5 679.6,1207.8 682.6,1208.1 685.6,1208.4 688.6,1208.6 691.6,1208.9 694.6,1209.1 697.6,1209.3 700.6,1209.4 703.6,1209.6 706.6,1209.7 709.6,1209.8 712.6,1209.9 715.6,1210.0 718.6,1210.1 721.6,1210.2 724.6,1210.3 727.6,1210.4 730.6,1210.5 733.6,1210.6 736.6,1210.7 739.6,1210.7 742.6,1210.8 745.6,1210.9 748.6,1211.0 751.6,1211.0 754.6,1211.1 757.6,1211.2 760.6,1211.3 763.6,1211.3 766.6,1211.4 769.6,1211.5 772.6,1211.5 775.6,1211.6 778.6,1211.6 781.6,1211.7 784.6,1211.8 787.6,1211.8 790.6,1211.9 793.6,1212.0 796.6,1212.0 799.6,1212.1 802.6,1212.2 805.6,1212.2 808.6,1212.3 811.6,1212.4 814.6,1212.5 817.6,1212.6 820.6,1212.7 823.6,1212.7 826.6,1212.8 829.6,1212.9 832.6,1213.0 835.6,1213.1 838.6,1213.2 841.6,1213.3 844.6,1213.4 847.6,1213.5 850.6,1213.6 853.6,1213.7 856.6,1213.7 859.6,1213.8 862.6,1213.9 865.6,1214.0 868.6,1214.1 871.6,1214.2 874.6,1214.2 877.6,1214.3 880.6,1214.4 883.6,1214.5 886.6,1214.5 889.6,1214.6 892.6,1214.7 895.6,1214.7 898.6,1214.8 901.6,1214.8 904.6,1214.9 907.6,1214.9 910.6,1215.0 913.6,1215.0 916.6,1215.1 919.6,1215.1 922.6,1215.1 925.6,1215.2 928.6,1215.2 931.6,1215.3 934.6,1215.3 937.6,1215.3 940.6,1215.4 943.6,1215.4 946.6,1215.4 949.6,1215.5 952.6,1215.5 955.6,1215.5 958.6,1215.6 961.6,1215.6 964.6,1215.6 967.6,1215.7 970.6,1215.7 973.6,1215.7 976.6,1215.8 979.6,1215.8 982.6,1215.8 985.6,1215.9 988.6,1215.9 991.6,1215.9 994.6,1215.9 997.6,1216.0 1000.6,1216.0 1003.6,1216.0 1006.6,1216.1 1009.6,1216.1 1012.6,1216.1 1015.6,1216.2 1018.6,1216.2 1021.6,1216.2 1024.6,1216.3 1027.6,1216.3 1030.6,1216.3 1033.6,1216.4 1036.6,1216.4 1039.6,1216.4 1042.6,1216.4 1045.6,1216.5 1048.6,1216.5 1051.6,1216.5 1054.6,1216.6 1057.6,1216.6 1060.6,1216.6 1063.6,1216.7 1066.6,1216.7 1069.6,1216.7 1072.6,1216.8 1075.6,1216.8 1078.6,1216.8 1081.6,1216.8 1084.6,1216.9 1087.6,1216.9 1090.6,1216.9 1093.6,1217.0 1096.6,1217.0 1099.6,1217.0 1102.6,1217.1 1105.6,1217.1 1108.6,1217.1 1111.6,1217.1 1114.6,1217.2 1117.6,1217.2 1120.6,1217.2 1123.6,1217.2 1126.6,1217.3 1129.6,1217.3 1132.6,1217.3 1135.6,1217.3 1138.6,1217.4 1141.6,1217.4 1144.6,1217.4 1147.6,1217.4 1150.6,1217.5 1153.6,1217.5 1156.6,1217.5 1159.6,1217.5 1162.6,1217.6 1165.6,1217.6 1168.6,1217.6 1171.6,1217.6 1174.6,1217.6 1177.6,1217.7 1180.6,1217.7 1183.6,1217.7 1186.6,1217.7 1189.6,1217.7 1192.6,1217.8 1195.6,1217.8 1198.6,1217.8 1201.6,1217.8 1204.6,1217.8 1207.6,1217.8 1210.6,1217.9 1213.6,1217.9 1216.6,1217.9 1219.6,1217.9 1222.6,1217.9 1225.6,1217.9 1228.6,1217.9 1231.6,1218.0 1234.6,1218.0 1237.6,1218.0 1240.6,1218.0 1243.6,1218.0 1246.6,1218.0 1249.6,1218.1 1252.6,1218.1 1255.6,1218.1 1258.6,1218.1 1261.6,1218.1 1264.6,1218.1 1267.6,1218.1 1270.6,1218.2 1273.6,1218.2 1276.6,1218.2 1279.6,1218.2 1282.6,1218.2 1285.6,1218.2 1288.6,1218.2 1291.6,1218.3 1294.6,1218.3 1297.6,1218.3 1300.6,1218.3 1303.6,1218.3 1306.6,1218.3 1309.6,1218.3 1312.6,1218.3 1315.6,1218.4 1318.6,1218.4 1321.6,1218.4 1324.6,1218.4 1327.6,1218.4 1330.6,1218.4 1333.6,1218.4 1336.6,1218.4 1339.6,1218.4 1342.6,1218.5 1345.6,1218.5 1348.6,1218.5 1351.6,1218.5 1354.6,1218.5 1357.6,1218.5 1360.6,1218.5 1363.6,1218.5 1366.6,1218.5 1369.6,1218.5 1372.6,1218.6 1375.6,1218.6 1378.6,1218.6 1381.6,1218.6 1384.6,1218.6 1387.6,1218.6 1390.6,1218.6 1393.6,1218.6 1396.6,1218.6 1399.6,1218.6 1402.6,1218.6 1405.6,1218.6 1408.6,1218.6 1411.6,1218.6 1414.6,1218.7 1417.6,1218.7 1420.6,1218.7 1423.6,1218.7 1426.6,1218.7 1429.6,1218.7 1432.6,1218.7 1435.6,1218.7 1438.6,1218.7 1441.6,1218.7 1444.6,1218.7 1447.6,1218.7 1450.6,1218.7 1453.6,1218.7 1456.6,1218.7 1459.6,1218.7 1462.6,1218.7 1465.6,1218.7 1468.6,1218.7 1471.6,1218.7 1474.6,1218.7 1477.6,1218.8 1480.6,1218.8 1483.6,1218.8 1486.6,1218.8 1489.6,1218.8 1492.6,1218.8 1495.6,1218.8 1498.6,1218.8 1501.6,1218.8 1504.6,1218.8 1507.6,1218.8 1510.6,1218.8 1513.6,1218.8 1516.6,1218.8 1519.6,1218.8 1522.6,1218.8 1525.6,1218.8 1528.6,1218.8 1531.6,1218.8 1534.6,1218.8 1537.6,1218.8 1540.6,1218.8 1543.6,1218.8 1546.6,1218.8 1549.6,1218.8 1552.6,1218.8 1555.6,1218.8 1558.6,1218.8 1561.6,1218.8 1564.6,1218.9 1567.6,1218.9 1570.6,1218.9 1573.6,1218.9 1576.6,1218.9 1579.6,1218.9 1582.6,1218.9 1585.6,1218.9 1588.6,1218.9 1591.6,1218.9 1594.6,1218.9 1597.6,1218.9 1600.6,1218.9 1603.6,1218.9 1606.6,1218.9 1609.6,1218.9 1612.6,1218.9 1615.6,1218.9 1618.6,1218.9 1621.6,1218.9 1624.6,1218.9 1627.6,1218.9 1630.6,1218.9 1633.6,1218.9 1636.6,1218.9 1639.6,1218.9 1642.6,1218.9 1645.6,1218.9 1648.6,1218.9 1651.6,1218.9 1654.6,1218.9 1657.6,1218.9 1660.6,1218.9 1663.6,1218.9 1665.0,1218.9" stroke="#00FF00" stroke-width="9.3" clip-path="url(#cl)"/>
</g>
<g stroke-width="7.8" stroke-linecap="butt">
<path d="M1927.5,586.8H2010.5" stroke="#00FF00"/>
<path d="M1927.5,668.1H2010.5" stroke="#FF8A00"/>
<path d="M1927.5,749.4H2010.5" stroke="#FF4040"/>
<path d="M1927.5,830.7H2010.5" stroke="#8E00A8"/>
<path d="M1927.5,912.0H2010.5" stroke="#00A1B5"/>
<path d="M1927.5,993.3H2010.5" stroke="#00A2FF"/>
<path d="M1927.5,1074.6H2010.5" stroke="#5B55FF"/>
<path d="M1927.5,1155.9H2010.5" stroke="#000000"/>
</g>
<g font-size="65.3" stroke="#000" stroke-width="0.5">
<text transform="translate(2055.10,605.50) scale(1.0,1.015)">400 µg/ml</text>
<text transform="translate(2055.10,686.80) scale(1.0,1.015)">300 µg/ml</text>
<text transform="translate(2055.10,768.10) scale(1.0,1.015)">200 µg/ml</text>
<text transform="translate(2055.10,849.40) scale(1.0,1.015)">100 µg/ml</text>
<text transform="translate(2055.10,930.70) scale(1.0,1.015)">75 µg/ml</text>
<text transform="translate(2055.10,1012.00) scale(1.0,1.015)">50 µg/ml</text>
<text transform="translate(2055.10,1093.30) scale(1.0,1.015)">20 µg/ml</text>
<text transform="translate(2055.10,1174.60) scale(1.0,1.015)">control</text>
</g>
</g>
</svg></body></html>
